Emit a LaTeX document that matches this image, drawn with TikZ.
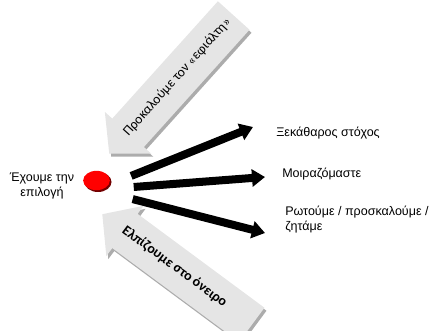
\documentclass[tikz,border=0pt]{standalone}
\usepackage{fontspec}
\setmainfont{Liberation Sans}
\newfontfamily\calibri{Carlito}
\usepackage{tikz}
\usetikzlibrary{shapes.geometric, shapes.arrows, arrows.meta, positioning}

\begin{document}
\begin{tikzpicture}[
    x=0.75pt, y=-0.75pt,
    txt/.style={inner sep=0pt, font=\fontsize{9.4}{11.25}\selectfont},
    blockarrow/.style={single arrow, fill=gray!20, shape border rotate=180,
        single arrow head extend=7.5pt, single arrow tip angle=96,
        minimum height=139.5pt, inner xsep=0pt, inner ysep=11.5pt,
        text height=6.5pt, text depth=2pt},
    blockshadow/.style={blockarrow, fill=gray!65},
    fanarrow/.style={-{Triangle[width=12.75pt, length=9.75pt]}, line width=6pt, shorten <=28pt}
]
\useasboundingbox (0,0) rectangle (436,331);

% the choice
\node[ellipse, fill=red!45!black, minimum width=20.25pt, minimum height=15pt] (choiceshadow) at (98,182) {};
\node[ellipse, fill=red, minimum width=20pt, minimum height=14.5pt] (choice) at (96.5,180.5) {};
\node[txt, align=center] (have) at (42,186) {Έχουμε την\\επιλογή};

% nightmare / dream
\node[blockshadow, rotate=48, anchor=tip] (nightshadow) at (111,157) {};
\node[blockarrow, rotate=48, anchor=tip, font=\calibri\fontsize{10.2}{11}\selectfont] (night) at (109,154) {Προκαλούμε τον «εφιάλτη»};

\node[blockshadow, rotate=-36.5, anchor=tip] (dreamshadow) at (104,217) {};
\node[blockarrow, rotate=-36.5, anchor=tip, font=\calibri\bfseries\fontsize{10.5}{12}\selectfont] (dream) at (102,214) {Ελπίζουμε στο όνειρο\rule{20pt}{0pt}};

% goals
\node[txt, anchor=west] (goal) at (276,133) {Ξεκάθαρος στόχος};
\node[txt, anchor=west] (share) at (282,174) {Μοιραζόμαστε};
\node[txt, anchor=north west, align=left] (ask) at (285,206) {Ρωτούμε / προσκαλούμε /\\ζητάμε};

\coordinate (fan) at ([yshift=-7pt]choice.center);
\coordinate (t1) at (253,127);
\coordinate (t2) at (265,177);
\coordinate (t3) at (265,233);

\draw[fanarrow] (fan) -- (t1);
\draw[fanarrow] (fan) -- (t2);
\draw[fanarrow] (fan) -- (t3);

\end{tikzpicture}
\end{document}
